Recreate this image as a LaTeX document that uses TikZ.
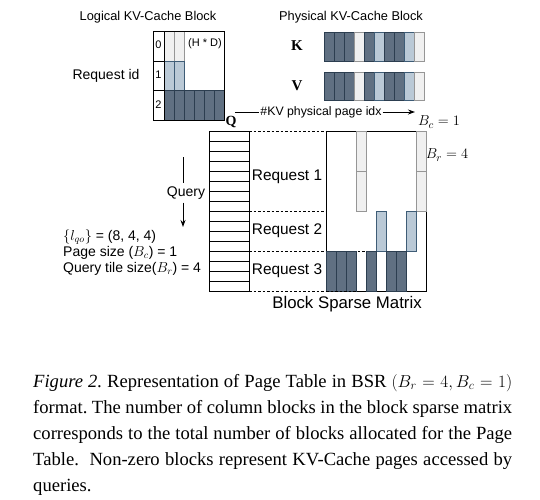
\documentclass[tikz,border=0pt]{standalone}
\usepackage{fontspec}
\setmainfont{Liberation Serif}
\newfontfamily\arialf{Liberation Sans}
\usetikzlibrary{arrows.meta}
\definecolor{darkfill}{RGB}{96,112,130}
\definecolor{darkline}{RGB}{44,62,80}
\definecolor{bluefill}{RGB}{186,201,214}
\definecolor{blueline}{RGB}{62,92,118}
\definecolor{grayfill}{RGB}{240,240,240}
\definecolor{grayline}{RGB}{150,150,150}
\begin{document}
\begin{tikzpicture}[x=1pt,y=-1pt,
  darkcell/.style={fill=darkfill,draw=darkline,line width=1pt},
  bluecell/.style={fill=bluefill,draw=blueline,line width=1pt},
  graycell/.style={fill=grayfill,draw=grayline,line width=1pt},
  wcell/.style={fill=white,draw=black,line width=0.9pt},
  frame/.style={draw=black,line width=1pt},
  guide/.style={draw=black,dashed,line width=0.9pt,dash pattern=on 2.5pt off 2pt},
  lbl/.style={font=\arialf\fontsize{14}{16}\selectfont,inner sep=0pt},
  title/.style={font=\arialf\fontsize{12.8}{15}\selectfont,inner sep=0pt},
  small/.style={font=\arialf\fontsize{11}{13}\selectfont,inner sep=0pt},
  mathlbl/.style={font=\fontsize{15}{17}\selectfont,inner sep=0pt}]
\useasboundingbox (0,0) rectangle (540,499);

% ---------- Logical KV-Cache block ----------
\node[title] (ltitle) at (148,17) {Logical KV-Cache Block};
\node[lbl] (reqid) at (106,76) {Request id};
\draw[graycell] (164,31) rectangle (174,61);
\draw[graycell] (174,31) rectangle (184,61);
\draw[bluecell] (164,61) rectangle (174,90);
\draw[bluecell] (174,61) rectangle (184,90);
\foreach \i in {0,...,5} \draw[darkcell] ({164+10*\i},90) rectangle ++(10,30);
\draw[wcell] (153,31) rectangle (164,61);
\draw[wcell] (153,61) rectangle (164,90);
\draw[wcell] (153,90) rectangle (164,120);
\draw[frame] (153,31) rectangle (224,120);
\node[small] (i0) at (158.5,45) {0};
\node[small] (i1) at (158.5,75) {1};
\node[small] (i2) at (158.5,105) {2};
\node[small] (hd) at (205,44) {(H * D)};

% ---------- Physical KV-Cache block ----------
\node[title] (ptitle) at (351,17) {Physical KV-Cache Block};
\node[mathlbl] (klbl) at (297,46) {$\mathbf{K}$};
\node[mathlbl] (vlbl) at (297,86) {$\mathbf{V}$};
\foreach \s [count=\i from 0] in {darkcell,darkcell,darkcell,graycell,darkcell,bluecell,darkcell,darkcell,bluecell,graycell}{
  \draw[\s] ({324+10*\i},32) rectangle ++(10,29);
  \draw[\s] ({324+10*\i},72) rectangle ++(10,28);
}

% ---------- page index arrow ----------
\node[font=\arialf\fontsize{12.3}{14}\selectfont,inner sep=1pt] (pageidx) at (321,112) {\#KV physical page idx};
\coordinate (pistart) at (235,112);
\coordinate (piend) at (415,112);
\draw[line width=0.9pt] (pistart) -- (pageidx.west);
\draw[line width=0.9pt,-{Stealth[length=7pt,width=5pt]}] (pageidx.east) -- (piend);
\node[mathlbl,font=\fontsize{14}{16}\selectfont] (qlbl) at (231,122) {$\mathbf{Q}$};
\node[mathlbl,font=\fontsize{15}{17}\selectfont] (bc) at (439,122) {$B_c = 1$};
\node[mathlbl,font=\fontsize{15}{17}\selectfont] (br) at (447,155) {$B_r = 4$};

% ---------- Q column ----------
\foreach \j in {0,...,15} \draw[wcell] (209,{131+10*\j}) rectangle ++(40,10);

% ---------- dashed request separators ----------
\draw[guide] (249,131) -- (326,131);
\draw[guide] (249,211) -- (326,211);
\draw[guide] (249,251) -- (376,251);
\draw[guide] (249,291) -- (356,291);

% ---------- block sparse matrix ----------
\draw[frame,fill=white] (326,131) rectangle (426,291);
\draw[guide] (326,251) -- (376,251);
\foreach \c in {3,9}{
  \draw[graycell] ({326+10*\c},131) rectangle ++(10,40);
  \draw[graycell] ({326+10*\c},171) rectangle ++(10,40);
}
\foreach \c in {5,8} \draw[bluecell] ({326+10*\c},211) rectangle ++(10,40);
\foreach \c in {0,1,2,4,6,7} \draw[darkcell] ({326+10*\c},251) rectangle ++(10,40);
\draw[guide] (326,291) -- (356,291);

\node[lbl,font=\arialf\fontsize{15.4}{17}\selectfont] (req1) at (287,177) {Request 1};
\node[lbl,font=\arialf\fontsize{15.4}{17}\selectfont] (req2) at (287,231) {Request 2};
\node[lbl,font=\arialf\fontsize{15.4}{17}\selectfont] (req3) at (287,271) {Request 3};
\node[lbl,font=\arialf\fontsize{16.8}{19}\selectfont] (bsm) at (347,304) {Block Sparse Matrix};

% ---------- query arrow and parameters ----------
\coordinate (qtop) at (183,157);
\coordinate (qbot) at (183,227);
\node[lbl,inner sep=3pt] (query) at (186,193) {Query};
\draw[line width=0.9pt] (qtop) -- (query.north -| qtop);
\draw[line width=0.9pt,-{Stealth[length=7pt,width=5pt]}] (query.south -| qtop) -- (qbot);
\node[lbl,anchor=west] (lqo) at (63,237) {$\{l_{qo}\}$ = (8, 4, 4)};
\node[lbl,anchor=west] (psize) at (63,253) {Page size ($B_c$) = 1};
\node[lbl,anchor=west] (qtile) at (63,269) {Query tile size($B_r$) = 4};

% ---------- caption ----------
\node[anchor=north west,text width=479pt,align=justify,inner sep=0pt,
      font=\fontsize{18.6}{26}\selectfont\frenchspacing] (caption) at (33,374)
{\textit{Figure 2.} Representation of Page Table in BSR $(B_r = 4, B_c = 1)$\linebreak
format. The number of column blocks in the block sparse matrix\linebreak
corresponds to the total number of blocks allocated for the Page\linebreak
Table.\ \ Non-zero blocks represent KV-Cache pages accessed by\linebreak
queries.};
\end{tikzpicture}
\end{document}
